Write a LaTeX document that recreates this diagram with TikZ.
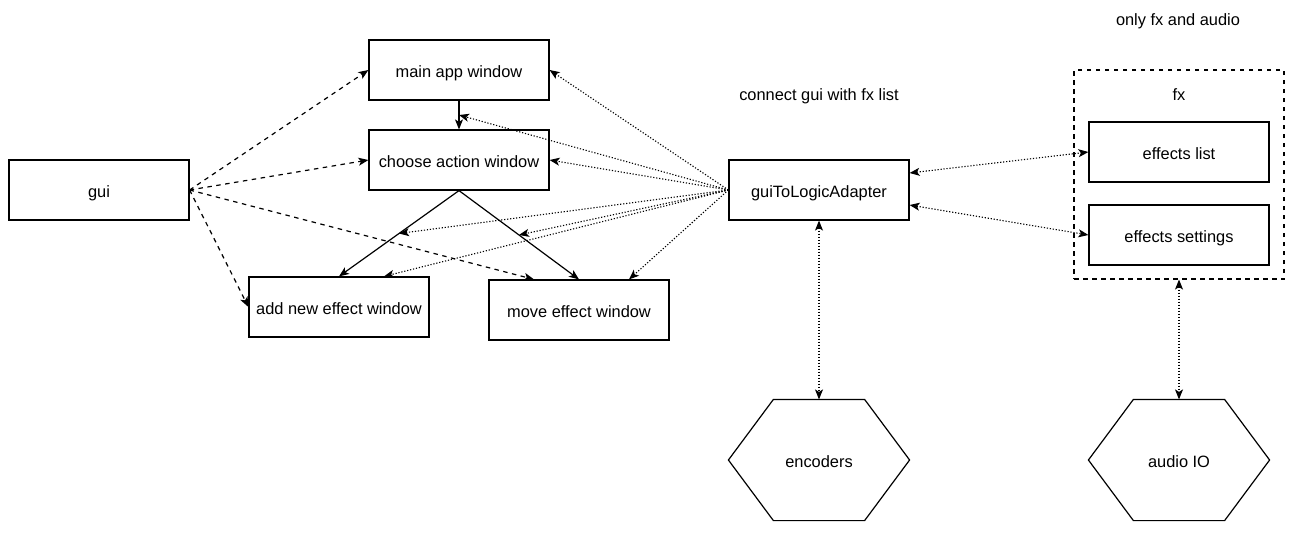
\documentclass[tikz,border=0pt]{standalone}
\usepackage{fontspec}
\setmainfont{Liberation Sans}
\usetikzlibrary{arrows.meta,calc}

\tikzset{
  winbox/.style={draw,line width=1.2pt,minimum width=180pt,minimum height=60pt,inner sep=0pt},
  hexbox/.style={minimum width=180pt,minimum height=120pt,inner sep=0pt},
  plain/.style={inner sep=0pt},
  guilink/.style={->,line width=1.2pt,dash pattern=on 4.5pt off 4.5pt},
  logiclink/.style={->,line width=1.1pt,dash pattern=on 1.2pt off 1.8pt},
}

\begin{document}
\begin{tikzpicture}[x=1pt,y=-1pt,line width=1.2pt,
    font=\fontsize{16.4}{19}\selectfont,
    every node/.style={text height=14pt,text depth=0pt},
    >={Stealth[length=10pt,width=8pt,inset=2.5pt]}]
    \useasboundingbox (0,0) rectangle (1312,536);
    % windows
    \node[winbox] (gui) at (99,190) {gui};
    \node[winbox] (mainwin) at (459,70) {main app window};
    \node[winbox] (choosewin) at (459,160) {choose action window};
    \node[winbox] (addwin) at (339,307) {add new effect window};
    \node[winbox] (movewin) at (579,310) {move effect window};
    \node[winbox] (adapter) at (819,190) {guiToLogicAdapter};
    % fx group
    \node[draw,line width=1.1pt,dash pattern=on 4.5pt off 4.5pt,minimum width=210pt,minimum height=209pt,inner sep=0pt] (fx) at (1179,174.5) {};
    \node[plain] (fxlabel) at (1179,93) {fx};
    \node[winbox] (fxlist) at (1179,152) {effects list};
    \node[winbox] (fxset) at (1179,235) {effects settings};
    \node[plain] (connnote) at (819,93) {connect gui with fx list};
    \node[plain] (onlynote) at (1178,18) {only fx and audio};
    % hexagons
    \foreach \n/\x/\t in {enc/819/encoders,audio/1179/audio IO} {
      \node[hexbox] (\n) at (\x,460) {\t};
      \draw (\n.west) -- ($(\n.north west)+(45,0)$) -- ($(\n.north east)+(-45,0)$)
        -- (\n.east) -- ($(\n.south east)+(-45,0)$) -- ($(\n.south west)+(45,0)$) -- cycle;
    }
    % solid flow
    \draw[->] (mainwin.south) -- coordinate (mainmid) (choosewin.north);
    \draw[->] (choosewin.south) -- coordinate (addmid) (addwin.north);
    \draw[->] (choosewin.south) -- coordinate (movemid) (movewin.north);
    \coordinate (addtop) at ($(addwin.north)+(45,0)$);
    \coordinate (movetop) at ($(movewin.north)+(50,0)$);
    \coordinate (moveleft) at ($(movewin.north)+(-45,0)$);
    % gui links
    \foreach \t in {mainwin.west,choosewin.west,addwin.west,moveleft}
      \draw[guilink] (gui.east) -- (\t);
    % adapter links
    \foreach \t in {mainwin.east,choosewin.east,mainmid,addmid,movemid,addtop,movetop}
      \draw[logiclink] (adapter.west) -- (\t);
    \coordinate (adapterup) at ($(adapter.east)+(0,-17)$);
    \coordinate (adapterdown) at ($(adapter.east)+(0,15)$);
    \draw[logiclink,<->] (adapterup) -- (fxlist.west);
    \draw[logiclink,<->] (adapterdown) -- (fxset.west);
    \draw[logiclink,<->] (adapter.south) -- (enc.north);
    \draw[logiclink,<->] (fx.south) -- (audio.north);
\end{tikzpicture}
\end{document}
